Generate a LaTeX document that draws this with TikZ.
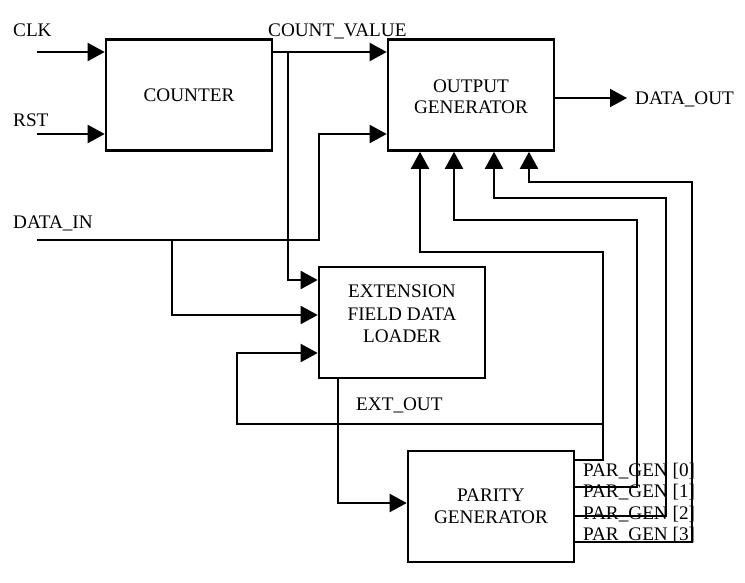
\documentclass[tikz,border=0pt]{standalone}
\usepackage{fontspec}
\setmainfont{Liberation Serif}
\usetikzlibrary{arrows.meta}
\begin{document}
\begin{tikzpicture}[x=1pt,y=-1pt,
  blockbox/.style={draw,line width=2.6pt,minimum width=166pt,minimum height=111pt,inner sep=0pt,align=center,font=\fontsize{19.2}{22}\selectfont},
  lbl/.style={inner sep=0pt,anchor=base west,font=\fontsize{19.2}{22}\selectfont},
  conn/.style={line width=2pt},
  arr/.style={conn,-{Triangle[length=17pt,width=18pt]}}]
\useasboundingbox (0,0) rectangle (745,582);
\node[blockbox] (counter) at (189,95) {COUNTER};
\node[blockbox] (outgen) at (471,95) {};
\node[font=\fontsize{19.2}{21}\selectfont,align=center] (outtxt) at (471,97) {OUTPUT\\GENERATOR};
\node[blockbox] (ext) at (402,322.5) {};
\node[font=\fontsize{19.2}{22.5}\selectfont,align=center] (exttxt) at (402,314) {EXTENSION\\FIELD DATA\\LOADER};
\node[blockbox] (par) at (491,506.5) {PARITY\\GENERATOR};

\coordinate (clkin) at (37,52);
\coordinate (rstin) at (37,134);
\coordinate (din) at (37,240);
\coordinate (cvbr) at (288,52);
\coordinate (dinbr) at (172,240);
\coordinate (fbj) at (603,424);
\coordinate (dout) at (627,98);

\draw[arr] (clkin) -- (counter.west |- clkin);
\draw[arr] (rstin) -- (counter.west |- rstin);
\draw[arr] (counter.east |- clkin) -- (outgen.west |- clkin);
\draw[arr] (cvbr) |- (ext.west |- 0,280);
\draw[arr] (din) -| (319,134) -- (outgen.west |- rstin);
\draw[arr] (dinbr) |- (ext.west |- 0,315);
\draw[arr] (par.east |- 0,460) -| (603,252) -| (outgen.south -| 420,0);
\draw[arr] (fbj) -| (237,353) -- (ext.west |- 0,353);
\draw[arr] (ext.south -| 338,0) |- (par.west |- 0,503);
\draw[arr] (par.east |- 0,487) -| (637,220) -| (outgen.south -| 454,0);
\draw[arr] (par.east |- 0,516) -| (666,198) -| (outgen.south -| 494,0);
\draw[arr] (par.east |- 0,542) -| (692,182) -| (outgen.south -| 529,0);
\draw[arr] (outgen.east |- dout) -- (dout);

\node[lbl] (clk) at (13,36) {CLK};
\node[lbl] (rst) at (13,126) {RST};
\node[lbl] (dinl) at (13,228) {DATA\_IN};
\node[lbl] (cvl) at (268,36) {COUNT\_VALUE};
\node[lbl] (doutl) at (635,104) {DATA\_OUT};
\node[lbl] (extl) at (356,410) {EXT\_OUT};
\node[lbl] (p0) at (583,476) {PAR\_GEN [0]};
\node[lbl] (p1) at (583,497) {PAR\_GEN [1]};
\node[lbl] (p2) at (583,519) {PAR\_GEN [2]};
\node[lbl] (p3) at (583,540) {PAR\_GEN [3]};
\end{tikzpicture}
\end{document}
